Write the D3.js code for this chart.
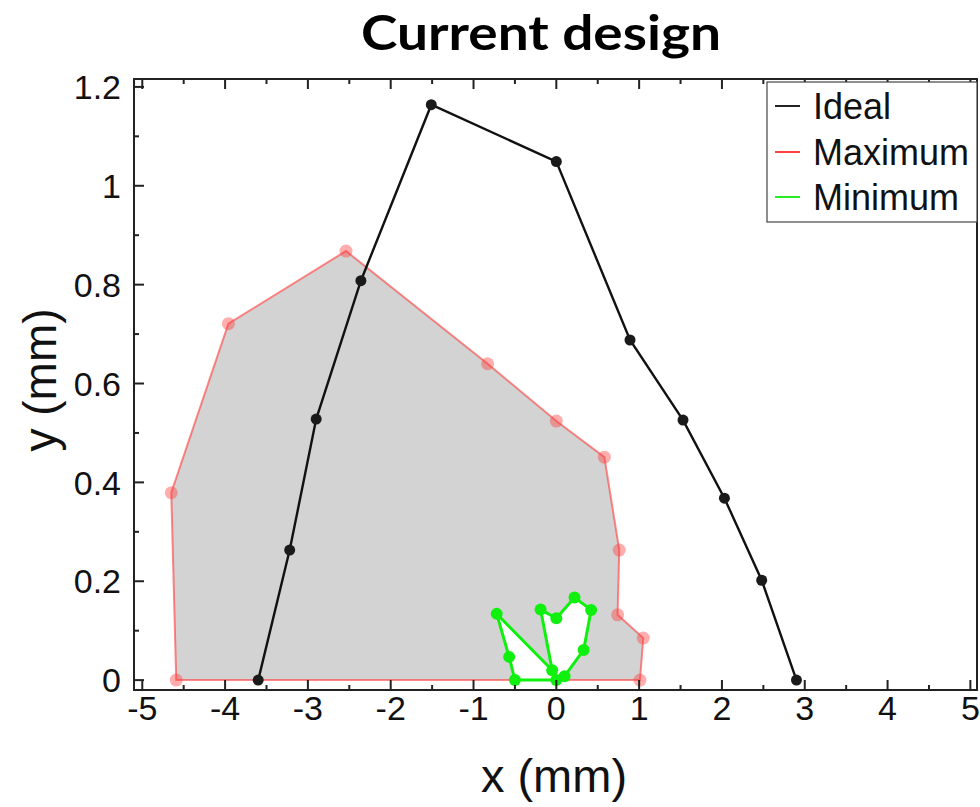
<!DOCTYPE html>
<html>
<head>
<meta charset="utf-8">
<script src="https://cdn.jsdelivr.net/npm/d3@7"></script>
<style>
  html, body { margin: 0; padding: 0; background: #fff; }
  svg { display: block; }
</style>
</head>
<body>
<svg id="chart" width="980" height="807"></svg>
<script>
// Ideal trajectory (open polyline)
const idealX = [-3.60, -3.22, -2.90, -2.36, -1.51, 0.00, 0.89, 1.53, 2.03, 2.48, 2.90];
const idealY = [0.000, 0.263, 0.528, 0.808, 1.164, 1.049, 0.688, 0.526, 0.368, 0.202, 0.000];

// Maximum reachable envelope (closed polygon, grey fill)
const maxX = [-4.59, -4.65, -3.96, -2.54, -0.83, 0.00, 0.58, 0.76, 0.74, 1.05, 1.01];
const maxY = [0.000, 0.379, 0.721, 0.868, 0.640, 0.524, 0.451, 0.263, 0.132, 0.085, 0.000];

// Minimum reachable envelope (closed polygon, white fill)
const minX = [-0.72, -0.57, -0.50, 0.00, 0.10, 0.33, 0.42, 0.22, 0.00, -0.19, -0.05];
const minY = [0.134, 0.047, 0.000, 0.000, 0.008, 0.061, 0.142, 0.167, 0.125, 0.143, 0.020];

const xTicks = [-5, -4, -3, -2, -1, 0, 1, 2, 3, 4, 5];
const yTicks = [0, 0.2, 0.4, 0.6, 0.8, 1.0, 1.2];
const xMinorTicks = d3.range(-5, 5.01, 0.5);
const yMinorTicks = d3.range(0, 1.21, 0.1);

const legendNames = ["Ideal", "Maximum", "Minimum"];
const titleText = "Current design";

const svg = d3.select("#chart");
const plotLeft = 134, plotRight = 977, plotTop = 79, plotBottom = 690;

const x = d3.scaleLinear().domain([-5.1, 5.08]).range([plotLeft, plotRight]);
const y = d3.scaleLinear().domain([-0.02, 1.216]).range([plotBottom, plotTop]);

const zip = (xs, ys) => xs.map((v, i) => [v, ys[i]]);
const ideal = zip(idealX, idealY);
const maxPts = zip(maxX, maxY);
const minPts = zip(minX, minY);

const lineGen = d3.line().x(d => x(d[0])).y(d => y(d[1]));
const closedGen = d3.line().x(d => x(d[0])).y(d => y(d[1])).curve(d3.curveLinearClosed);

const axisColor = "#222";
const red = "#ff3b3b";
const green = "#0ff00f";

// Title
svg.append("text")
  .attr("x", 541).attr("y", 50)
  .attr("text-anchor", "middle")
  .attr("font-family", "Lato, 'Open Sans', sans-serif")
  .attr("font-weight", "bold")
  .attr("font-size", 48)
  .attr("textLength", 360)
  .attr("lengthAdjust", "spacingAndGlyphs")
  .attr("fill", "#000")
  .text(titleText);

// Maximum envelope
const plot = svg.append("g");
plot.append("path")
  .attr("d", closedGen(maxPts))
  .attr("fill", "#d3d3d3")
  .attr("stroke", red)
  .attr("stroke-opacity", 0.6)
  .attr("stroke-width", 2);
plot.selectAll("circle.max").data(maxPts).join("circle")
  .attr("class", "max")
  .attr("cx", d => x(d[0])).attr("cy", d => y(d[1]))
  .attr("r", 6.5)
  .attr("fill", red).attr("fill-opacity", 0.42);

// Minimum envelope
plot.append("path")
  .attr("d", closedGen(minPts))
  .attr("fill", "#fff")
  .attr("stroke", green)
  .attr("stroke-width", 3);
plot.selectAll("circle.min").data(minPts).join("circle")
  .attr("class", "min")
  .attr("cx", d => x(d[0])).attr("cy", d => y(d[1]))
  .attr("r", 6)
  .attr("fill", green);

// Ideal trajectory
plot.append("path")
  .attr("d", lineGen(ideal))
  .attr("fill", "none")
  .attr("stroke", "#111")
  .attr("stroke-width", 2.4);
plot.selectAll("circle.ideal").data(ideal).join("circle")
  .attr("class", "ideal")
  .attr("cx", d => x(d[0])).attr("cy", d => y(d[1]))
  .attr("r", 5.5)
  .attr("fill", "#1a1a1a");

// Axes: frame, inward ticks
const axes = svg.append("g").attr("stroke", axisColor).attr("stroke-width", 2);
axes.append("rect")
  .attr("x", plotLeft).attr("y", plotTop)
  .attr("width", plotRight - plotLeft).attr("height", plotBottom - plotTop)
  .attr("fill", "none");

const major = 10, minor = 5;
const isMajorX = v => xTicks.some(t => Math.abs(t - v) < 1e-6);
const isMajorY = v => yTicks.some(t => Math.abs(t - v) < 1e-6);

// bottom and top ticks
xMinorTicks.forEach(v => {
  const len = isMajorX(v) ? major : minor;
  axes.append("line").attr("x1", x(v)).attr("x2", x(v)).attr("y1", plotBottom).attr("y2", plotBottom - len);
  axes.append("line").attr("x1", x(v)).attr("x2", x(v)).attr("y1", plotTop).attr("y2", plotTop + len);
});
// left ticks
yMinorTicks.forEach(v => {
  const len = isMajorY(v) ? major : minor;
  axes.append("line").attr("x1", plotLeft).attr("x2", plotLeft + len).attr("y1", y(v)).attr("y2", y(v));
});

// Tick labels
const labelFont = "'Liberation Sans', Arial, sans-serif";
svg.append("g").selectAll("text").data(xTicks).join("text")
  .attr("x", d => x(d)).attr("y", 720)
  .attr("text-anchor", "middle")
  .attr("font-family", labelFont).attr("font-size", 34).attr("fill", "#111")
  .text(d => String(d));
svg.append("g").selectAll("text").data(yTicks).join("text")
  .attr("x", 121).attr("y", d => y(d))
  .attr("dy", "0.36em")
  .attr("text-anchor", "end")
  .attr("font-family", labelFont).attr("font-size", 34).attr("fill", "#111")
  .text(d => String(+d.toFixed(1)));

// Axis titles
svg.append("text")
  .attr("x", 554).attr("y", 792)
  .attr("text-anchor", "middle")
  .attr("font-family", labelFont).attr("font-size", 47).attr("fill", "#111")
  .text("x (mm)");
svg.append("text")
  .attr("transform", "translate(56,380) rotate(-90)")
  .attr("text-anchor", "middle")
  .attr("font-family", labelFont).attr("font-size", 46).attr("fill", "#111")
  .text("y (mm)");

// Legend
const legend = svg.append("g");
legend.append("rect")
  .attr("x", 767).attr("y", 82).attr("width", 210).attr("height", 140)
  .attr("fill", "#fff").attr("stroke", "#444").attr("stroke-width", 1.2);
const legendColors = ["#222", "#ff4040", "#22ee22"];
const legendRowY = [106, 152, 197];
legendNames.forEach((name, i) => {
  legend.append("line")
    .attr("x1", 775).attr("x2", 800)
    .attr("y1", legendRowY[i]).attr("y2", legendRowY[i])
    .attr("stroke", legendColors[i]).attr("stroke-width", 2);
  legend.append("text")
    .attr("x", 813).attr("y", legendRowY[i]).attr("dy", "0.36em")
    .attr("font-family", labelFont).attr("font-size", 36).attr("fill", "#111")
    .text(name);
});
</script>
</body>
</html>
